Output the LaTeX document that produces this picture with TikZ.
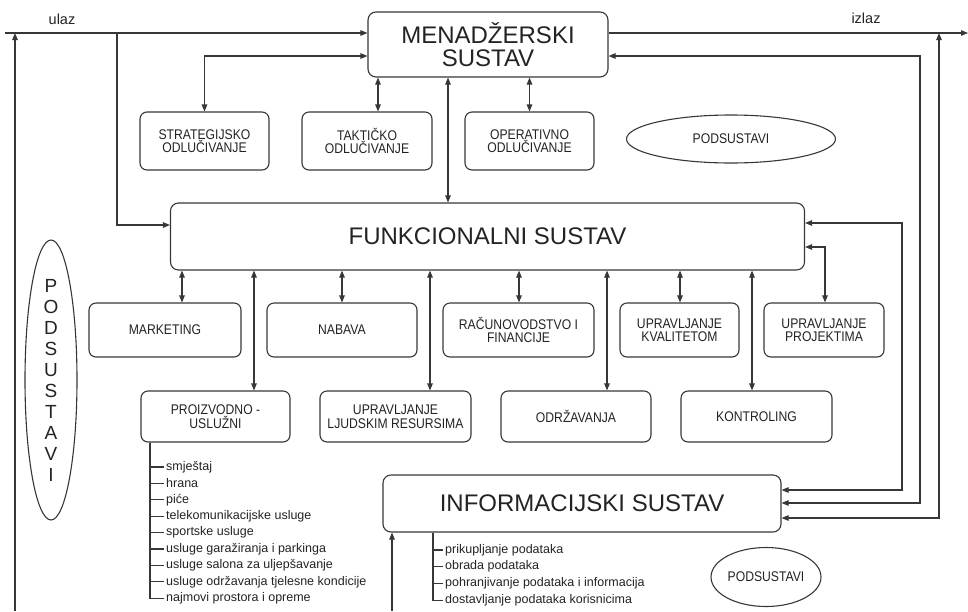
\documentclass[tikz,border=0pt]{standalone}
\usepackage{fontspec}
\setmainfont{Liberation Sans}
\newfontfamily\narrowsf{Liberation Sans}[FakeStretch=0.87]
\usepackage{tikz}
\usetikzlibrary{arrows.meta,positioning,shapes.geometric}
\definecolor{lineg}{RGB}{55,55,55}
\definecolor{textg}{RGB}{35,35,35}

\begin{document}
\begin{tikzpicture}[x=1pt, y=-1pt, >={Triangle[length=7pt,width=5.5pt]},
    bigbox/.style={rectangle, rounded corners=8pt, draw=lineg, line width=1.1pt, align=center, text=textg, font=\fontsize{24}{23}\selectfont},
    subbox/.style={rectangle, rounded corners=7pt, draw=lineg, line width=1.1pt, minimum width=150pt, minimum height=54pt, align=center, text=textg, font=\narrowsf\fontsize{14}{13.5}\selectfont},
    oval/.style={ellipse, draw=lineg, line width=1.1pt, inner sep=0pt, text=textg, font=\narrowsf\fontsize{14}{13.5}\selectfont},
    item/.style={anchor=west, inner sep=2pt, text=textg, font=\fontsize{12.5}{14}\selectfont},
    lbl/.style={text=textg, font=\fontsize{14.5}{16}\selectfont},
    link/.style={draw=lineg, line width=1.1pt}]
  \useasboundingbox (0,0) rectangle (968,611);

  % glavni sustavi
  \node[bigbox, minimum width=240pt, minimum height=65pt] (men) at (488,44.5) {MENADŽERSKI\\SUSTAV};
  \node[bigbox, minimum width=634pt, minimum height=67pt] (funk) at (487.5,236.5) {FUNKCIONALNI SUSTAV};
  \node[bigbox, minimum width=398pt, minimum height=57pt] (info) at (582,503.5) {INFORMACIJSKI SUSTAV};

  % odlucivanje
  \node[subbox, minimum width=129pt, minimum height=58pt] (strat) at (204.5,141) {STRATEGIJSKO\\ODLUČIVANJE};
  \node[subbox, minimum width=130pt, minimum height=58pt] (takt) at (367,141) {TAKTIČKO\\ODLUČIVANJE};
  \node[subbox, minimum width=129pt, minimum height=58pt] (oper) at (529.5,141) {OPERATIVNO\\ODLUČIVANJE};

  % funkcije, prvi red
  \node[subbox, minimum width=152pt] (mkt) at (165,330) {MARKETING};
  \node[subbox] (nab) at (342,330) {NABAVA};
  \node[subbox, minimum width=151pt] (rac) at (518.5,330) {RAČUNOVODSTVO I\\FINANCIJE};
  \node[subbox, minimum width=119pt] (kval) at (679.5,330) {UPRAVLJANJE\\KVALITETOM};
  \node[subbox, minimum width=120pt] (proj) at (824,330) {UPRAVLJANJE\\PROJEKTIMA};

  % funkcije, drugi red
  \node[subbox, minimum width=149pt, minimum height=51pt] (proiz) at (215.5,416.5) {PROIZVODNO -\\USLUŽNI};
  \node[subbox, minimum width=151pt, minimum height=51pt] (ljud) at (395.5,416.5) {UPRAVLJANJE\\LJUDSKIM RESURSIMA};
  \node[subbox, minimum height=51pt] (odr) at (576,416.5) {ODRŽAVANJA};
  \node[subbox, minimum width=151pt, minimum height=51pt] (kont) at (756.5,416.5) {KONTROLING};

  % podsustavi
  \node[oval, minimum width=209pt, minimum height=48pt] (podT) at (731,139) {PODSUSTAVI};
  \node[oval, minimum width=110pt, minimum height=59pt] (podB) at (766,577) {PODSUSTAVI};
  \node[oval, minimum width=52pt, minimum height=280pt] (podL) at (51,380) {};
  \node[align=center, text=textg, font=\fontsize{19}{21}\selectfont] (podLt) at (podL) {P\\O\\D\\S\\U\\S\\T\\A\\V\\I};

  % ulaz / izlaz
  \coordinate (in) at (5,33);
  \coordinate (out) at (968,33);
  \coordinate (split) at (117,33);
  \coordinate (fbL) at (15,611);
  \coordinate (fbI) at (392,611);
  \node[lbl] (ulaz) at (62,19) {ulaz};
  \node[lbl] (izlaz) at (866,18) {izlaz};
  \draw[link,->] (in) -- (in -| men.west);
  \draw[link,->] (men.east |- out) -- (out);
  \draw[link,->] (split) |- (funk.west |- 0,225);
  \draw[link,->] (fbL) -- (fbL |- in);
  \draw[link,->] (fbI) -- (fbI |- info.south);

  % menadzerski sustav
  \draw[link,<->] (strat.north) |- (men.west |- 0,56);
  \draw[link,<->] (men.south -| 378,0) -- (takt.north -| 378,0);
  \draw[link,<->] (men.south -| oper) -- (oper.north);
  \draw[link,<->] (men.south -| 448,0) -- (funk.north -| 448,0);

  % funkcionalni sustav
  \foreach \n/\x in {mkt/182, nab/342, rac/519, kval/680, proiz/254, ljud/430, odr/607, kont/752}
    \draw[link,<->] (funk.south -| \x,0) -- (\n.north -| \x,0);
  \draw[link,<->] (funk.east |- 0,247) -| (proj.north -| 825,0);

  % povratne veze informacijskog sustava
  \draw[link,<->] (info.east |- 0,490) -| (902,223) -- (funk.east |- 0,223);
  \draw[link,<->] (info.east |- 0,503) -| (920,56) -- (men.east |- 0,56);
  \draw[link,<->] (info.east |- 0,518) -| (out -| 939,0);

  % usluge
  \foreach \t [count=\i] in {smještaj, hrana, piće, telekomunikacijske usluge, sportske usluge,
      usluge garažiranja i parkinga, usluge salona za uljepšavanje,
      usluge održavanja tjelesne kondicije, najmovi prostora i opreme} {
    \node[item] (pu\i) at (164,{450.6+16.4*\i}) {\t};
    \draw[link] (proiz.south -| 150,0) |- (pu\i.west);
  }

  % obrada podataka
  \foreach \t [count=\i] in {prikupljanje podataka, obrada podataka,
      pohranjivanje podataka i informacija, dostavljanje podataka korisnicima} {
    \node[item] (pi\i) at (443,{533.3+16.7*\i}) {\t};
    \draw[link] (info.south -| 433,0) |- (pi\i.west);
  }
\end{tikzpicture}
\end{document}
